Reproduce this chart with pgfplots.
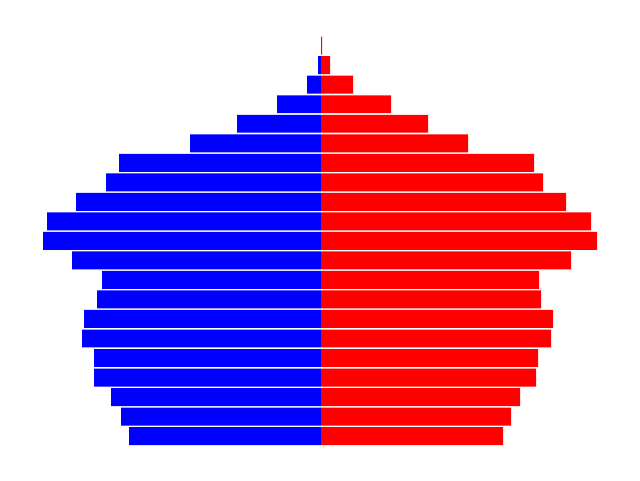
\documentclass[border=0pt]{standalone}
\usepackage{pgfplots}
\pgfplotsset{compat=1.18}
\usepackage{pgfplotstable}
\pgfplotstableread{
age left right
0 192 182
1 200 190
2 210 199
3 227 215
4 227 217
5 239 230
6 237 232
7 224 220
8 219 218
9 249 250
10 278 276
11 274 270
12 245 245
13 215 222
14 202 213
15 131 147
16 84 107
17 44 70
18 14 32
19 3 9
20 0 1
}\pop
\begin{document}
\begin{tikzpicture}
\begin{axis}[
  hide axis,
  scale only axis,
  width=6.4in, height=4.8in,
  xmin=-321, xmax=319,
  ymin=-2.25, ymax=22.34,
  xbar, bar width=0.92, bar shift=0pt,
]
\addplot[fill={rgb,255:red,0;green,0;blue,255}, draw=none] table[x expr=-\thisrow{left}, y=age] {\pop};
\addplot[fill={rgb,255:red,255;green,0;blue,0}, draw=none] table[x=right, y=age] {\pop};
\end{axis}
\path (current axis.south west) rectangle (current axis.north east);
\end{tikzpicture}
\end{document}
